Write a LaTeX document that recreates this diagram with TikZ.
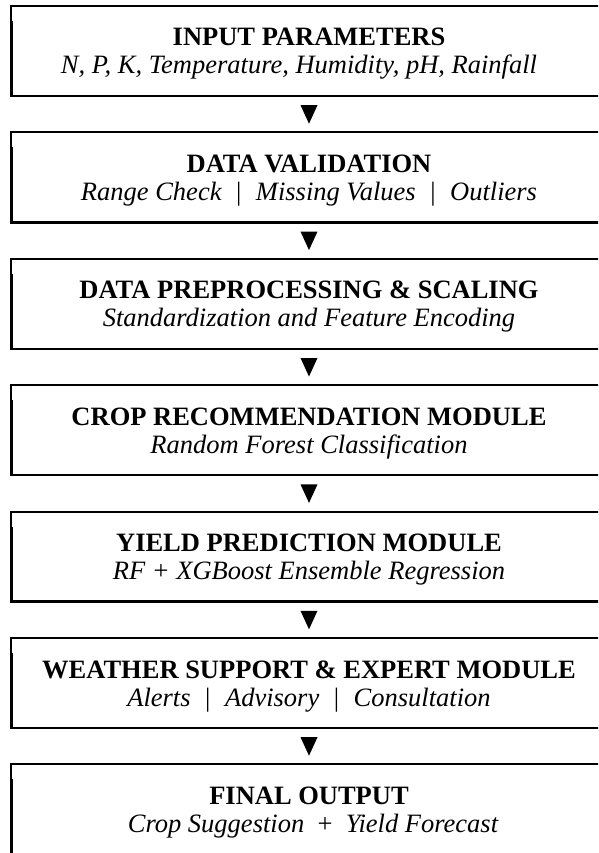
\documentclass[tikz,border=0pt]{standalone}
\usepackage{fontspec}
\setmainfont{Liberation Serif}
\usetikzlibrary{calc}
\begin{document}
\begin{tikzpicture}[x=1pt,y=-1pt,
  boxnode/.style={minimum width=598pt,minimum height=90pt,inner sep=0pt,outer sep=0pt},
  ttl/.style={font=\fontsize{26.5}{28}\selectfont\bfseries,anchor=base,inner sep=0pt},
  sub/.style={font=\fontsize{26.5}{28}\selectfont\itshape,anchor=base,inner sep=0pt},
  topline/.style={line width=2pt},
  botline/.style={line width=2.4pt},
  leftthin/.style={line width=2pt},
  leftthick/.style={line width=1.4pt},
  tri/.style={fill=black}]
\useasboundingbox (0,0) rectangle (598,853);
\clip (0,0) rectangle (598,853);
% boxes
\node[boxnode] (b1) at (309,51) {};
\node[boxnode] (b2) at (309,177.4) {};
\node[boxnode] (b3) at (309,303.8) {};
\node[boxnode] (b4) at (309,430.2) {};
\node[boxnode] (b5) at (309,556.6) {};
\node[boxnode] (b6) at (309,683) {};
\node[boxnode] (b7) at (309,809.4) {};
\foreach \b in {b1,b2,b3,b4,b5,b6,b7}{
  \draw[topline] (\b.north west) -- (\b.north east);
  \draw[botline] (\b.south west) -- (\b.south east);
  \draw[leftthin] ([xshift=1pt]\b.north west) -- ([xshift=1pt]\b.south west);
  \draw[leftthick] ([xshift=2.6pt,yshift=-15pt]\b.north west) -- ([xshift=2.6pt]\b.south west);
}
% texts
\node[ttl] (t1) at (309,46) {INPUT PARAMETERS};
\node[sub] (s1) at (299,74) {N, P, K, Temperature, Humidity, pH, Rainfall};
\node[ttl] (t2) at (309,172.4) {DATA VALIDATION};
\node[sub] (s2) at (309,200.4) {Range Check\hspace{0.55em}{\upshape|}\hspace{0.55em}Missing Values\hspace{0.55em}{\upshape|}\hspace{0.55em}Outliers};
\node[ttl] (t3) at (309,298.8) {DATA PREPROCESSING \& SCALING};
\node[sub] (s3) at (309,326.8) {Standardization and Feature Encoding};
\node[ttl] (t4) at (309,425.2) {CROP RECOMMENDATION MODULE};
\node[sub] (s4) at (309,453.2) {Random Forest Classification};
\node[ttl] (t5) at (309,551.6) {YIELD PREDICTION MODULE};
\node[sub] (s5) at (309,579.6) {RF + XGBoost Ensemble Regression};
\node[ttl] (t6) at (309,678) {WEATHER SUPPORT \& EXPERT MODULE};
\node[sub] (s6) at (309,706) {Alerts\hspace{0.55em}{\upshape|}\hspace{0.55em}Advisory\hspace{0.55em}{\upshape|}\hspace{0.55em}Consultation};
\node[ttl] (t7) at (309,804.4) {FINAL OUTPUT};
\node[sub] (s7) at (313,832.4) {Crop Suggestion\hspace{0.5em}{\upshape+}\hspace{0.5em}Yield Forecast};
% arrows
\foreach \u/\l [count=\i] in {b1/b2,b2/b3,b3/b4,b4/b5,b5/b6,b6/b7}{
  \coordinate (a\i) at ($(\u.south)!0.5!(\l.north)$);
  \fill[tri] (a\i) ++(-8.5,-9) -- ++(17,0) -- ++(-8.5,18.5) -- cycle;
}
\end{tikzpicture}
\end{document}
